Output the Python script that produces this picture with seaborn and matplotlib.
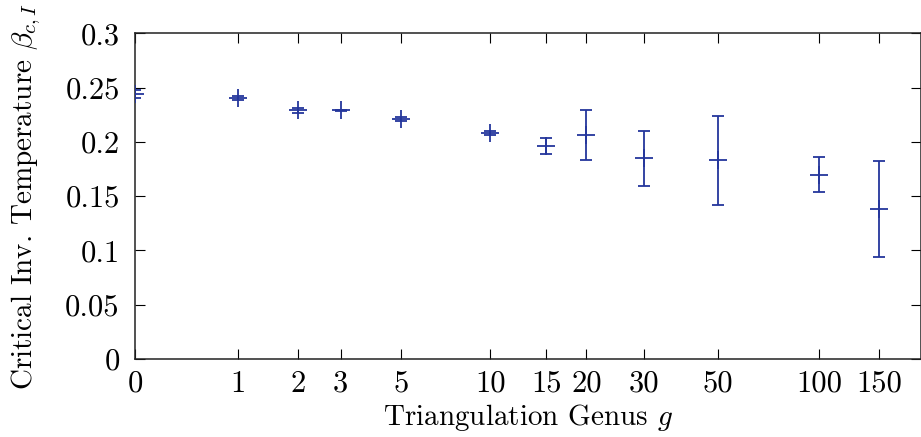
import numpy as np
import matplotlib
matplotlib.use("Agg")
import matplotlib.pyplot as plt
import seaborn as sns

# Critical inverse temperature vs. triangulation genus
genus = [0, 1, 2, 3, 5, 10, 15, 20, 30, 50, 100, 150]
beta_c = [0.2441, 0.2407, 0.2290, 0.2290, 0.2211, 0.2085, 0.1962,
          0.2063, 0.1849, 0.1830, 0.1698, 0.1382]
beta_err = [0.0033, 0.0020, 0.0020, 0.0005, 0.0015, 0.0018, 0.0072,
            0.0230, 0.0252, 0.0408, 0.0164, 0.0442]
xticks = [0, 1, 2, 3, 5, 10, 15, 20, 30, 50, 100, 150]
yticks = [0, 0.05, 0.1, 0.15, 0.2, 0.25, 0.3]
ytick_labels = ["0", "0.05", "0.1", "0.15", "0.2", "0.25", "0.3"]

sns.set_theme(style="ticks")
plt.rcParams["font.family"] = "serif"
plt.rcParams["font.serif"] = ["cmr10", "DejaVu Serif"]
plt.rcParams["mathtext.fontset"] = "cm"
plt.rcParams["axes.formatter.use_mathtext"] = True
plt.rcParams["text.color"] = "black"
plt.rcParams["axes.labelcolor"] = "black"

color = "#24369c"
tick_fs = 22
label_fs = 21

fig = plt.figure(figsize=(9.21, 4.37), dpi=100)
ax = fig.add_axes([135 / 921, 1 - 359 / 437, (920.5 - 135) / 921, (359 - 33.3) / 437])

# genus axis on a log(1 + g) scale
ax.set_xscale("function", functions=(lambda x: np.log1p(np.clip(x, -0.999, None)),
                                     lambda y: np.expm1(y)))

ax.errorbar(genus, beta_c, yerr=beta_err, fmt="none", ecolor=color,
            elinewidth=1.3, capsize=4.3, capthick=1.3)
sns.scatterplot(x=genus, y=beta_c, marker="+", s=150, color=color,
                linewidth=1.3, ax=ax, zorder=3)

ax.set_xlim(0, 199)
ax.set_ylim(0, 0.3)
ax.set_xticks(xticks)
ax.set_xticklabels([str(t) for t in xticks])
ax.set_yticks(yticks)
ax.set_yticklabels(ytick_labels)
ax.minorticks_off()

ax.tick_params(axis="both", direction="in", length=7, width=0.8,
               top=True, right=True, labelsize=tick_fs, colors="black")
ax.tick_params(axis="x", pad=8)
ax.tick_params(axis="y", pad=11)
for s in ax.spines.values():
    s.set_linewidth(1.1)
    s.set_color("#222222")

ax.set_xlabel("Triangulation Genus $g$", fontsize=label_fs, color="black")
ax.set_ylabel(r"Critical Inv. Temperature $\beta_{c,I}$", fontsize=label_fs, color="black")
ax.xaxis.set_label_coords(0.5, (359 - 402) / 325.7)
ax.yaxis.set_label_coords((43 - 135) / 785.5, 0.5)

fig.savefig("out.png", dpi=100)
